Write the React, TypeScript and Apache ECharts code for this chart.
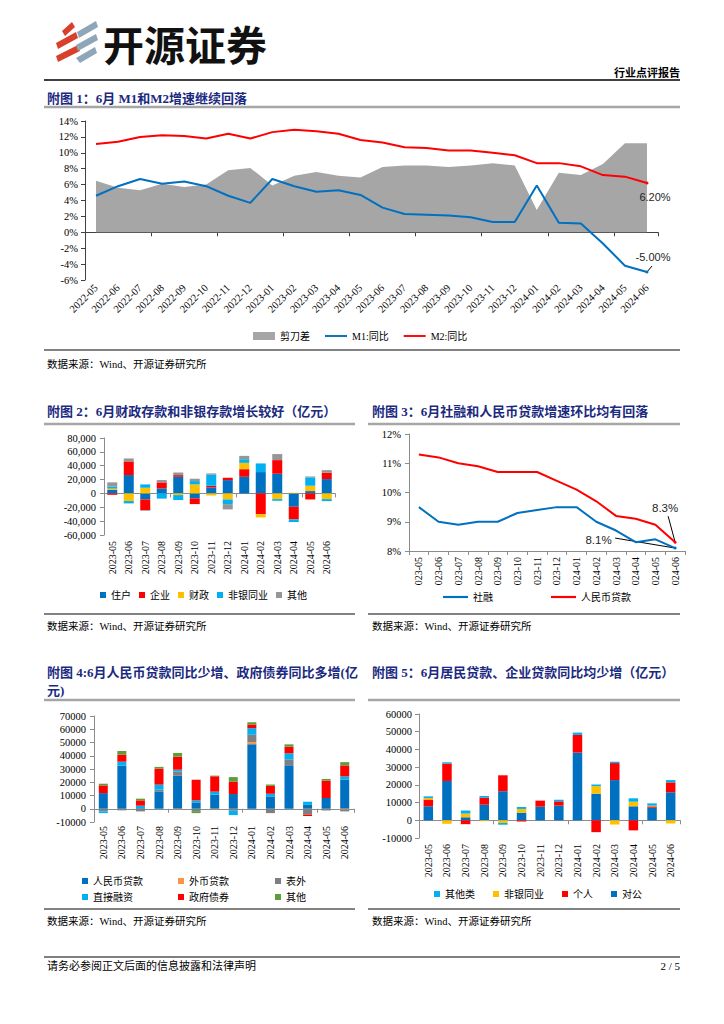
import React, { useEffect, useRef } from 'react';
import * as echarts from 'echarts';

// ---------- Data ----------
const m1Months = ['2022-05','2022-06','2022-07','2022-08','2022-09','2022-10','2022-11','2022-12','2023-01','2023-02','2023-03','2023-04','2023-05','2023-06','2023-07','2023-08','2023-09','2023-10','2023-11','2023-12','2024-01','2024-02','2024-03','2024-04','2024-05','2024-06'];
const scissorGap = [6.5,5.6,5.3,6.1,5.7,6.0,7.8,8.1,5.9,7.1,7.6,7.1,6.9,8.2,8.4,8.4,8.2,8.4,8.7,8.4,2.8,7.5,7.2,8.6,11.2,11.2];
const m1Yoy = [4.6,5.8,6.7,6.1,6.4,5.8,4.6,3.7,6.7,5.8,5.1,5.3,4.7,3.1,2.3,2.2,2.1,1.9,1.3,1.3,5.9,1.2,1.1,-1.4,-4.2,-5.0];
const m2Yoy = [11.1,11.4,12.0,12.2,12.1,11.8,12.4,11.8,12.6,12.9,12.7,12.4,11.6,11.3,10.7,10.6,10.3,10.3,10.0,9.7,8.7,8.7,8.3,7.2,7.0,6.2];

const months = ['2023-05','2023-06','2023-07','2023-08','2023-09','2023-10','2023-11','2023-12','2024-01','2024-02','2024-03','2024-04','2024-05','2024-06'];

// Fig 2: deposits (100m yuan)
const depHousehold = [5000,26500,-8700,7200,24000,-7200,8700,19200,24000,30800,28400,-19200,3400,20700];
const depCorporate = [-2000,19700,-15400,8700,2400,-8200,2400,3400,11000,-29800,19700,-18300,-8700,9100];
const depFiscal = [2000,-11000,8200,0,-2400,13000,-3000,-8700,9100,-4800,-8200,1000,7700,-8200];
const depNonBank = [3000,-3400,4800,-7500,-7200,4800,15900,-6700,5300,12500,-2400,-3800,12000,-2900];
const depOther = [6000,4300,-1000,3400,3800,3400,1900,-7700,4800,0,8700,0,1400,3800];

// Fig 3: growth rates (%)
const tsfGrowth = [9.5,9.0,8.9,9.0,9.0,9.3,9.4,9.5,9.5,9.0,8.7,8.3,8.4,8.1];
const loanGrowth = [11.3,11.2,11.0,10.9,10.7,10.7,10.7,10.4,10.1,9.7,9.2,9.1,8.9,8.3];

// Fig 4: TSF components (100m yuan)
const tsfRmbLoan = [11800,32500,500,13100,24900,4800,10600,11100,48600,9300,32800,3300,8100,21900];
const tsfFxLoan = [0,0,0,0,-500,0,-300,0,1500,0,0,0,0,-700];
const tsfOffBalance = [-2000,-1200,-2000,1300,3300,-1800,0,-1500,5800,-3300,4500,-4500,-1300,-1300];
const tsfDirect = [-1300,3000,1800,3800,1300,1500,2300,-3300,4800,2000,4500,2000,0,2500];
const tsfGovBond = [5800,5300,4000,12100,9800,15600,11600,9300,2800,6000,5000,-1000,13100,8300];
const tsfOther = [1300,2800,1300,1300,2800,-1500,500,3500,1800,1000,1800,0,1300,2500];

// Fig 5: loans (100m yuan)
const loanCorp = [7900,22200,1700,8800,16400,4300,7700,8300,38200,15000,22700,7900,7100,15800];
const loanHousehold = [3800,9800,-2200,4000,9000,-700,3400,2400,10000,-6700,9600,-5700,750,5600];
const loanNonBank = [900,-2000,2100,-500,-1500,2100,0,0,0,4300,-2400,2600,400,-1800];
const loanOther = [900,750,1700,900,-1000,1100,0,900,1300,900,750,1900,1300,1300];

// ---------- Styles ----------
const SERIF = "'Liberation Serif', 'Noto Sans CJK SC', serif";
const SANS = "'Liberation Sans', 'Noto Sans CJK SC', sans-serif";
const CJK = "'Noto Sans CJK SC', sans-serif";
const NAVY = '#1B2A80';
const BLUE = '#0070C0';
const RED = '#FF0000';
const YELLOW = '#FFC000';
const LBLUE = '#00B0F0';
const GRAY = '#969696';
const LINE_ICON = 'path://M0,0L30,0L30,2.6L0,2.6Z';

const labelAxis = (gridIndex: number, data: string[], extra: any = {}) => ({
  type: 'category', gridIndex, data, position: 'bottom',
  axisLine: { show: false, onZero: false }, axisTick: { show: false },
  axisLabel: { interval: 0, fontFamily: SERIF, fontSize: 10, color: '#000', margin: 6, ...extra },
});
const zeroAxis = (gridIndex: number, data: string[], color: string) => ({
  type: 'category', gridIndex, data, position: 'bottom',
  axisLine: { show: true, onZero: true, lineStyle: { color, width: 1 } },
  axisTick: { show: true, length: 4, lineStyle: { color } },
  axisLabel: { show: false },
});
const valueAxis = (gridIndex: number, min: number, max: number, interval: number, formatter: any, color: string, margin = 8) => ({
  type: 'value', gridIndex, min, max, interval,
  splitLine: { show: false },
  axisLine: { show: true, lineStyle: { color } },
  axisTick: { show: true, length: 4, lineStyle: { color } },
  axisLabel: { fontFamily: SERIF, fontSize: 10.5, color: '#000', formatter, margin },
});

const txt = (x: number, y: number, text: string, o: any = {}) => ({
  type: 'text', x, y, silent: true,
  style: {
    text, fill: o.fill || '#000', fontSize: o.fontSize || 10, fontFamily: o.fontFamily || SERIF,
    fontWeight: o.fontWeight || 'normal', align: o.align || 'left', textAlign: o.align || 'left',
    verticalAlign: 'middle', textVerticalAlign: 'middle',
  },
});
const hline = (x1: number, x2: number, y: number, stroke: string, lineWidth: number) => ({
  type: 'line', silent: true, shape: { x1, y1: y, x2, y2: y }, style: { stroke, lineWidth },
});
const poly = (points: number[][], fill: string) => ({ type: 'polygon', silent: true, shape: { points }, style: { fill } });

const last = (arr: number[], labelOpt: any, color: string) =>
  arr.map((v, i) => (i === arr.length - 1
    ? { value: v, symbol: 'circle', symbolSize: 3, itemStyle: { color }, label: { show: true, ...labelOpt } }
    : v));

const legendItem = (name: string, color: string, icon = 'rect') => ({ name, icon, itemStyle: { color, borderWidth: 0 } });
const legendText = { fontFamily: SERIF, fontSize: 10, color: '#000' };
const singleLegend = (left: number, top: number, name: string, color: string) => ({
  left, top, padding: 0, itemWidth: 6, itemHeight: 6, selectedMode: false, textStyle: legendText,
  data: [legendItem(name, color)],
});

const barSeries = (name: string, data: number[], color: string, xAxisIndex: number, yAxisIndex: number, stack: string, barWidth: number) => ({
  name, type: 'bar', data, xAxisIndex, yAxisIndex, stack, barWidth,
  itemStyle: { color }, emphasis: { disabled: true },
});

const plain = (v: number) => String(v);

const baseGraphics: any[] = [
  // logo
  poly([[62, 31], [72, 22], [75, 27], [65, 36]], '#D9402B'),
  poly([[56, 43], [76, 32], [78, 38], [58, 49]], '#D9402B'),
  poly([[56, 56], [78, 45], [80, 51], [58, 62]], '#D9402B'),
  poly([[77, 32], [96, 21], [98, 27], [79, 38]], '#8EA6B8'),
  poly([[76, 45], [96, 34], [98, 40], [78, 51]], '#8EA6B8'),
  poly([[76, 58], [95, 47], [97, 53], [80, 63]], '#8EA6B8'),
  txt(103, 43, '开源证券', { fontSize: 41, fontFamily: CJK, fontWeight: 'bold', fill: '#111' }),
  txt(680, 72, '行业点评报告', { fontSize: 11, fontFamily: CJK, fontWeight: 'bold', align: 'right' }),
  hline(44, 680, 80, '#000', 1.5),
  // fig 1
  txt(47, 98, '附图 1：6月 M1和M2增速继续回落', { fontSize: 13, fontWeight: 'bold', fill: NAVY }),
  hline(44, 680, 107, '#A6A6A6', 2.5),
  hline(44, 680, 350, '#595959', 1.5),
  txt(47, 364, '数据来源：Wind、开源证券研究所', { fontSize: 10.5 }),
  // fig 2 & 3
  txt(47, 411, '附图 2：6月财政存款和非银存款增长较好（亿元）', { fontSize: 13, fontWeight: 'bold', fill: NAVY }),
  hline(44, 355, 424, '#A6A6A6', 2.5),
  txt(372, 411, '附图 3：6月社融和人民币贷款增速环比均有回落', { fontSize: 13, fontWeight: 'bold', fill: NAVY }),
  hline(368, 680, 424, '#A6A6A6', 2.5),
  hline(44, 355, 614, '#595959', 1.5),
  txt(47, 626, '数据来源：Wind、开源证券研究所', { fontSize: 10.5 }),
  hline(368, 680, 614, '#595959', 1.5),
  txt(372, 626, '数据来源：Wind、开源证券研究所', { fontSize: 10.5 }),
  // fig 4 & 5
  txt(47, 672, '附图 4:6月人民币贷款同比少增、政府债券同比多增(亿', { fontSize: 13, fontWeight: 'bold', fill: NAVY }),
  txt(47, 690, '元)', { fontSize: 13, fontWeight: 'bold', fill: NAVY }),
  hline(44, 355, 700, '#A6A6A6', 2.5),
  txt(372, 672, '附图 5：6月居民贷款、企业贷款同比均少增（亿元）', { fontSize: 13, fontWeight: 'bold', fill: NAVY }),
  hline(368, 680, 700, '#A6A6A6', 2.5),
  hline(44, 355, 909, '#595959', 1.5),
  txt(47, 921, '数据来源：Wind、开源证券研究所', { fontSize: 10.5 }),
  hline(368, 680, 909, '#595959', 1.5),
  txt(372, 921, '数据来源：Wind、开源证券研究所', { fontSize: 10.5 }),
  // footer
  hline(44, 680, 957, '#7F7F7F', 2),
  txt(47, 966, '请务必参阅正文后面的信息披露和法律声明', { fontSize: 11 }),
  txt(680, 966, '2 / 5', { fontSize: 11, align: 'right' }),
];

const option: any = {
  animation: false,
  backgroundColor: '#fff',
  grid: [
    { left: 85, top: 121, width: 573, height: 159 },
    { left: 104, top: 438, width: 231, height: 97 },
    { left: 409, top: 434, width: 276, height: 117 },
    { left: 94, top: 716, width: 260, height: 106 },
    { left: 419, top: 714, width: 261, height: 124 },
  ],
  xAxis: [
    labelAxis(0, m1Months, { rotate: 45, margin: 6, fontSize: 10.5 }),
    zeroAxis(0, m1Months, '#404040'),
    labelAxis(1, months, { rotate: 90 }),
    zeroAxis(1, months, '#8C8C8C'),
    {
      type: 'category', gridIndex: 2, data: months, position: 'bottom',
      axisLine: { show: true, lineStyle: { color: '#8C8C8C' } },
      axisTick: { show: true, length: 4, lineStyle: { color: '#8C8C8C' } },
      axisLabel: { interval: 0, rotate: 90, fontFamily: SERIF, fontSize: 10, color: '#000', margin: 6, formatter: (v: string) => v.slice(1) },
    },
    labelAxis(3, months, { rotate: 90, margin: 4 }),
    zeroAxis(3, months, '#8C8C8C'),
    labelAxis(4, months, { rotate: 90 }),
    zeroAxis(4, months, '#8C8C8C'),
  ],
  yAxis: [
    valueAxis(0, -6, 14, 2, '{value}%', '#404040', 7),
    valueAxis(1, -60000, 80000, 20000, (v: number) => v.toLocaleString('en-US'), '#8C8C8C', 8),
    valueAxis(2, 8, 12, 1, '{value}%', '#8C8C8C', 8),
    valueAxis(3, -10000, 70000, 10000, plain, '#8C8C8C', 8),
    valueAxis(4, -10000, 60000, 10000, plain, '#8C8C8C', 7),
  ],
  legend: [
    {
      left: 253, top: 331, padding: 0, itemWidth: 22, itemHeight: 8, itemGap: 15, selectedMode: false, textStyle: legendText,
      data: [legendItem('剪刀差', '#A6A6A6'), legendItem('M1:同比', BLUE, LINE_ICON), legendItem('M2:同比', RED, LINE_ICON)],
    },
    {
      left: 100, top: 590, padding: 0, itemWidth: 6, itemHeight: 6, itemGap: 8, selectedMode: false, textStyle: legendText,
      data: [legendItem('住户', BLUE), legendItem('企业', RED), legendItem('财政', YELLOW), legendItem('非银同业', LBLUE), legendItem('其他', GRAY)],
    },
    {
      left: 443, top: 592, padding: 0, itemWidth: 25, itemHeight: 8, itemGap: 58, selectedMode: false, textStyle: legendText,
      data: [legendItem('社融', BLUE, LINE_ICON), legendItem('人民币贷款', RED, LINE_ICON)],
    },
    singleLegend(82, 876, '人民币贷款', BLUE),
    singleLegend(178, 876, '外币贷款', '#F79646'),
    singleLegend(275, 876, '表外', '#7F7F7F'),
    singleLegend(82, 892, '直接融资', LBLUE),
    singleLegend(178, 892, '政府债券', RED),
    singleLegend(275, 892, '其他', '#5E9E3A'),
    {
      left: 434, top: 889, padding: 0, itemWidth: 6, itemHeight: 6, itemGap: 18, selectedMode: false, textStyle: legendText,
      data: [legendItem('其他类', LBLUE), legendItem('非银同业', YELLOW), legendItem('个人', RED), legendItem('对公', BLUE)],
    },
  ],
  series: [
    // Fig 1
    {
      name: '剪刀差', type: 'line', xAxisIndex: 0, yAxisIndex: 0, data: scissorGap, symbol: 'none',
      lineStyle: { width: 0, opacity: 0 }, areaStyle: { color: '#A6A6A6', opacity: 1 }, itemStyle: { color: '#A6A6A6' }, z: 1,
    },
    {
      name: 'M1:同比', type: 'line', xAxisIndex: 0, yAxisIndex: 0, symbol: 'none',
      data: last(m1Yoy, { position: 'top', offset: [6, -3], formatter: (p: any) => `${p.value.toFixed(2)}%`, fontFamily: SANS, fontSize: 11, color: '#262626' }, BLUE),
      lineStyle: { color: BLUE, width: 2 }, itemStyle: { color: BLUE }, z: 3,
    },
    {
      name: 'M2:同比', type: 'line', xAxisIndex: 0, yAxisIndex: 0, symbol: 'none',
      data: last(m2Yoy, { position: 'bottom', offset: [8, 2], formatter: (p: any) => `${p.value.toFixed(2)}%`, fontFamily: SANS, fontSize: 11, color: '#262626' }, RED),
      lineStyle: { color: RED, width: 2 }, itemStyle: { color: RED }, z: 3,
    },
    // Fig 3
    {
      name: '社融', type: 'line', xAxisIndex: 4, yAxisIndex: 2, symbol: 'none',
      data: last(tsfGrowth, { position: 'left', offset: [-57, -8], formatter: (p: any) => `${p.value.toFixed(1)}%`, fontFamily: SANS, fontSize: 11.5, color: '#262626' }, BLUE),
      lineStyle: { color: BLUE, width: 2 }, itemStyle: { color: BLUE },
    },
    {
      name: '人民币贷款', type: 'line', xAxisIndex: 4, yAxisIndex: 2, symbol: 'none',
      data: last(loanGrowth, { position: 'top', offset: [-10, -22], formatter: (p: any) => `${p.value.toFixed(1)}%`, fontFamily: SANS, fontSize: 11.5, color: '#262626' }, RED),
      lineStyle: { color: RED, width: 2 }, itemStyle: { color: RED },
    },
    // Fig 2
    barSeries('住户', depHousehold, BLUE, 2, 1, 'dep', 10),
    barSeries('企业', depCorporate, RED, 2, 1, 'dep', 10),
    barSeries('财政', depFiscal, YELLOW, 2, 1, 'dep', 10),
    barSeries('非银同业', depNonBank, LBLUE, 2, 1, 'dep', 10),
    barSeries('其他', depOther, GRAY, 2, 1, 'dep', 10),
    // Fig 4
    barSeries('人民币贷款', tsfRmbLoan, BLUE, 5, 3, 'tsf', 9),
    barSeries('外币贷款', tsfFxLoan, '#F79646', 5, 3, 'tsf', 9),
    barSeries('表外', tsfOffBalance, '#7F7F7F', 5, 3, 'tsf', 9),
    barSeries('直接融资', tsfDirect, LBLUE, 5, 3, 'tsf', 9),
    barSeries('政府债券', tsfGovBond, RED, 5, 3, 'tsf', 9),
    barSeries('其他', tsfOther, '#5E9E3A', 5, 3, 'tsf', 9),
    // Fig 5
    barSeries('对公', loanCorp, BLUE, 7, 4, 'loan', 9.5),
    barSeries('个人', loanHousehold, RED, 7, 4, 'loan', 9.5),
    barSeries('非银同业', loanNonBank, YELLOW, 7, 4, 'loan', 9.5),
    barSeries('其他类', loanOther, LBLUE, 7, 4, 'loan', 9.5),
  ],
  graphic: { elements: baseGraphics },
};

export default function App() {
  const ref = useRef<HTMLDivElement>(null);
  useEffect(() => {
    if (!ref.current) return;
    const chart = echarts.init(ref.current, null, { renderer: 'svg' });
    chart.setOption(option);
    // leader lines for the end-point annotations, anchored on the data points through the axes
    const leader = (finder: any, cat: string, val: number, dx: number, dy: number) => {
      const p = chart.convertToPixel(finder, [cat, val]) as number[];
      return {
        type: 'line', silent: true,
        shape: { x1: p[0], y1: p[1], x2: p[0] + dx, y2: p[1] + dy },
        style: { stroke: '#000', lineWidth: 1 },
      };
    };
    const n1 = m1Months.length - 1;
    const n3 = months.length - 1;
    const leaders = [
      leader({ xAxisIndex: 0, yAxisIndex: 0 }, m1Months[n1], m1Yoy[n1], 5, -6),
      leader({ xAxisIndex: 4, yAxisIndex: 2 }, months[n3], loanGrowth[n3], -7, -26),
      leader({ xAxisIndex: 4, yAxisIndex: 2 }, months[n3], tsfGrowth[n3], -60, -10),
    ];
    chart.setOption({ graphic: { elements: [...baseGraphics, ...leaders] } });
    return () => chart.dispose();
  }, []);
  return (
    <div
      ref={ref}
      style={{ position: 'absolute', left: 0, top: 0, width: 724, height: 1024, background: '#fff' }}
    />
  );
}
